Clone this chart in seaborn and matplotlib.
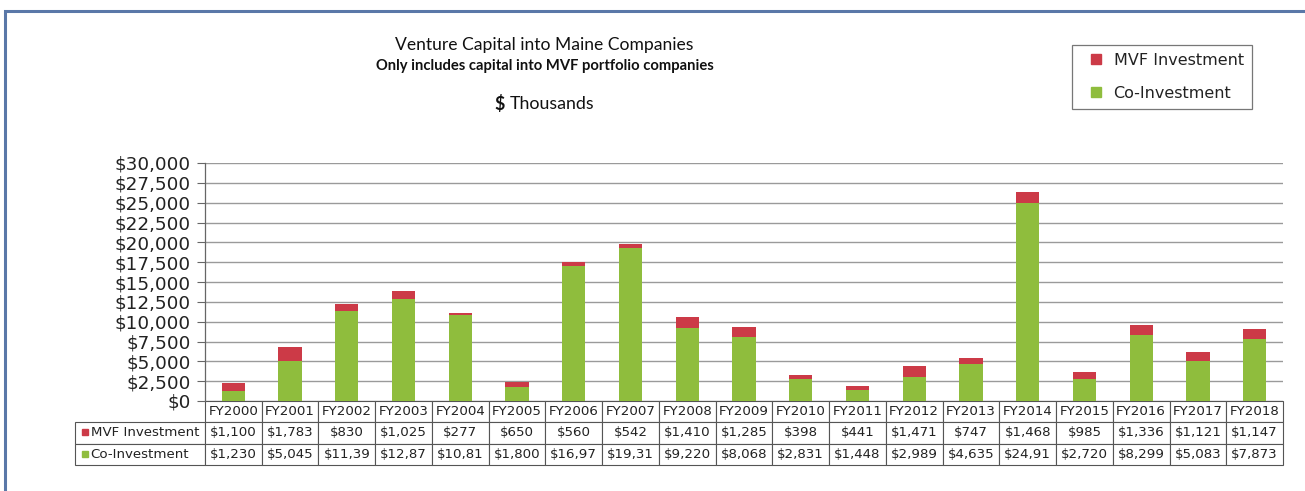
import matplotlib
matplotlib.use("Agg")
import matplotlib.pyplot as plt
from matplotlib.patches import Rectangle
from matplotlib.lines import Line2D
from matplotlib.ticker import FuncFormatter, MultipleLocator
import seaborn as sns
import pandas as pd

years = ["FY2000", "FY2001", "FY2002", "FY2003", "FY2004", "FY2005", "FY2006",
         "FY2007", "FY2008", "FY2009", "FY2010", "FY2011", "FY2012", "FY2013",
         "FY2014", "FY2015", "FY2016", "FY2017", "FY2018"]
mvf = [1100, 1783, 830, 1025, 277, 650, 560, 542, 1410, 1285, 398, 441,
       1471, 747, 1468, 985, 1336, 1121, 1147]
co = [1230, 5045, 11390, 12870, 10810, 1800, 16970, 19310, 9220, 8068, 2831,
      1448, 2989, 4635, 24910, 2720, 8299, 5083, 7873]
mvf_labels = ["$1,100", "$1,783", "$830", "$1,025", "$277", "$650", "$560",
              "$542", "$1,410", "$1,285", "$398", "$441", "$1,471", "$747",
              "$1,468", "$985", "$1,336", "$1,121", "$1,147"]
co_labels = ["$1,230", "$5,045", "$11,39", "$12,87", "$10,81", "$1,800",
             "$16,97", "$19,31", "$9,220", "$8,068", "$2,831", "$1,448",
             "$2,989", "$4,635", "$24,91", "$2,720", "$8,299", "$5,083", "$7,873"]
series_names = ["MVF Investment", "Co-Investment"]

RED = "#cc3a47"
GREEN = "#8fbd3d"

sns.set_theme(style="white")
plt.rcParams["font.family"] = ["DejaVu Sans"]

W, H = 1305, 491
fig = plt.figure(figsize=(W / 100, H / 100), dpi=100)
fig.patch.set_facecolor("white")

ax_l, ax_r, ax_b, ax_t = 205, 1283, 401, 163
ax = fig.add_axes([ax_l / W, 1 - ax_b / H, (ax_r - ax_l) / W, (ax_b - ax_t) / H])

df = pd.DataFrame({"year": years, "mvf": mvf, "co": co})
df["total"] = df["mvf"] + df["co"]

sns.barplot(data=df, x="year", y="total", order=years, color=RED,
            saturation=1, width=0.41, ax=ax, zorder=3, edgecolor="none",
            linewidth=0)
sns.barplot(data=df, x="year", y="co", order=years, color=GREEN,
            saturation=1, width=0.41, ax=ax, zorder=3, edgecolor="none",
            linewidth=0)

ax.set_ylim(0, 30000)
ax.set_xlim(-0.5, len(years) - 0.5)
ax.yaxis.set_major_locator(MultipleLocator(2500))
ax.yaxis.set_major_formatter(FuncFormatter(lambda v, p: "${:,.0f}".format(v)))
ax.tick_params(axis="y", labelsize=13.2, length=6, width=0.8, color="#666666",
               pad=4, labelcolor="#222222", left=True)
ax.tick_params(axis="x", bottom=False, labelbottom=False)
ax.set_xlabel("")
ax.set_ylabel("")
ax.grid(axis="y", color="#9a9a9a", linewidth=1.0, zorder=0)
ax.set_axisbelow(True)
for s in ["top", "right", "bottom"]:
    ax.spines[s].set_visible(False)
ax.spines["left"].set_color("#666666")
ax.spines["left"].set_linewidth(0.9)

# data table
ncol = len(years)
cell_text = [[""] + years,
             [series_names[0]] + mvf_labels,
             [series_names[1]] + co_labels]
first_w = (ax_l - 75) / (ax_r - ax_l)
col_w = [first_w] + [1.0 / ncol] * ncol
tab_h = 64 / (ax_b - ax_t)
table = ax.table(cellText=cell_text, cellLoc="center", colWidths=col_w,
                 bbox=[-first_w, -tab_h, 1 + first_w, tab_h])
table.auto_set_font_size(False)
table.set_fontsize(9.6)
for (r, c), cell in table.get_celld().items():
    cell.set_edgecolor("#555555")
    cell.set_linewidth(0.8)
    cell.set_facecolor("white")
    cell.get_text().set_color("#222222")
    if r == 0 and c == 0:
        cell.set_visible(False)
    if c == 0 and r > 0:
        cell.get_text().set_horizontalalignment("left")
        cell.PAD = 0.12

for yrow, col in [(-(432 - 401) / (ax_b - ax_t), RED), (-(454 - 401) / (ax_b - ax_t), GREEN)]:
    ax.plot([(85 - ax_l) / (ax_r - ax_l)], [yrow], marker="s", markersize=4.5,
            color=col, transform=ax.transAxes, clip_on=False, zorder=10)

# titles
fig.text(544 / W, 1 - 45 / H, "Venture Capital into Maine Companies",
         ha="center", va="center", fontsize=12.6, family="Lato", color="#111111")
fig.text(545 / W, 1 - 66 / H, "Only includes capital into MVF portfolio companies",
         ha="center", va="center", fontsize=10.6, family="Lato",
         fontweight="bold", color="#111111")
fig.text(505 / W, 1 - 104 / H, "\\$", ha="right", va="center", fontsize=12.8,
         family="Lato", fontweight="bold", color="#111111")
fig.text(510 / W, 1 - 104 / H, "Thousands", ha="left", va="center",
         fontsize=12.8, family="Lato", color="#111111")

# legend
handles = [Line2D([], [], marker="s", linestyle="none", markersize=6.5,
                  color=RED),
           Line2D([], [], marker="s", linestyle="none", markersize=6.5,
                  color=GREEN)]
leg = fig.legend(handles, series_names, loc="upper left",
                 bbox_to_anchor=(1072 / W, 1 - 45 / H), frameon=True,
                 fancybox=False, fontsize=11.5, handlelength=2.0,
                 handletextpad=0.1, labelspacing=1.1,
                 borderpad=0.5, borderaxespad=0)
leg.get_frame().set_edgecolor("#555555")
leg.get_frame().set_linewidth(0.9)
for t in leg.get_texts():
    t.set_color("#222222")

# outer blue frame (left and top edges visible)
fig.add_artist(Rectangle((5 / W, -0.2), 1.2, 1 - 11 / H + 0.2,
                         transform=fig.transFigure, fill=False,
                         edgecolor="#5a78a8", linewidth=2.2))

fig.savefig("out.png", dpi=100, facecolor="white")
